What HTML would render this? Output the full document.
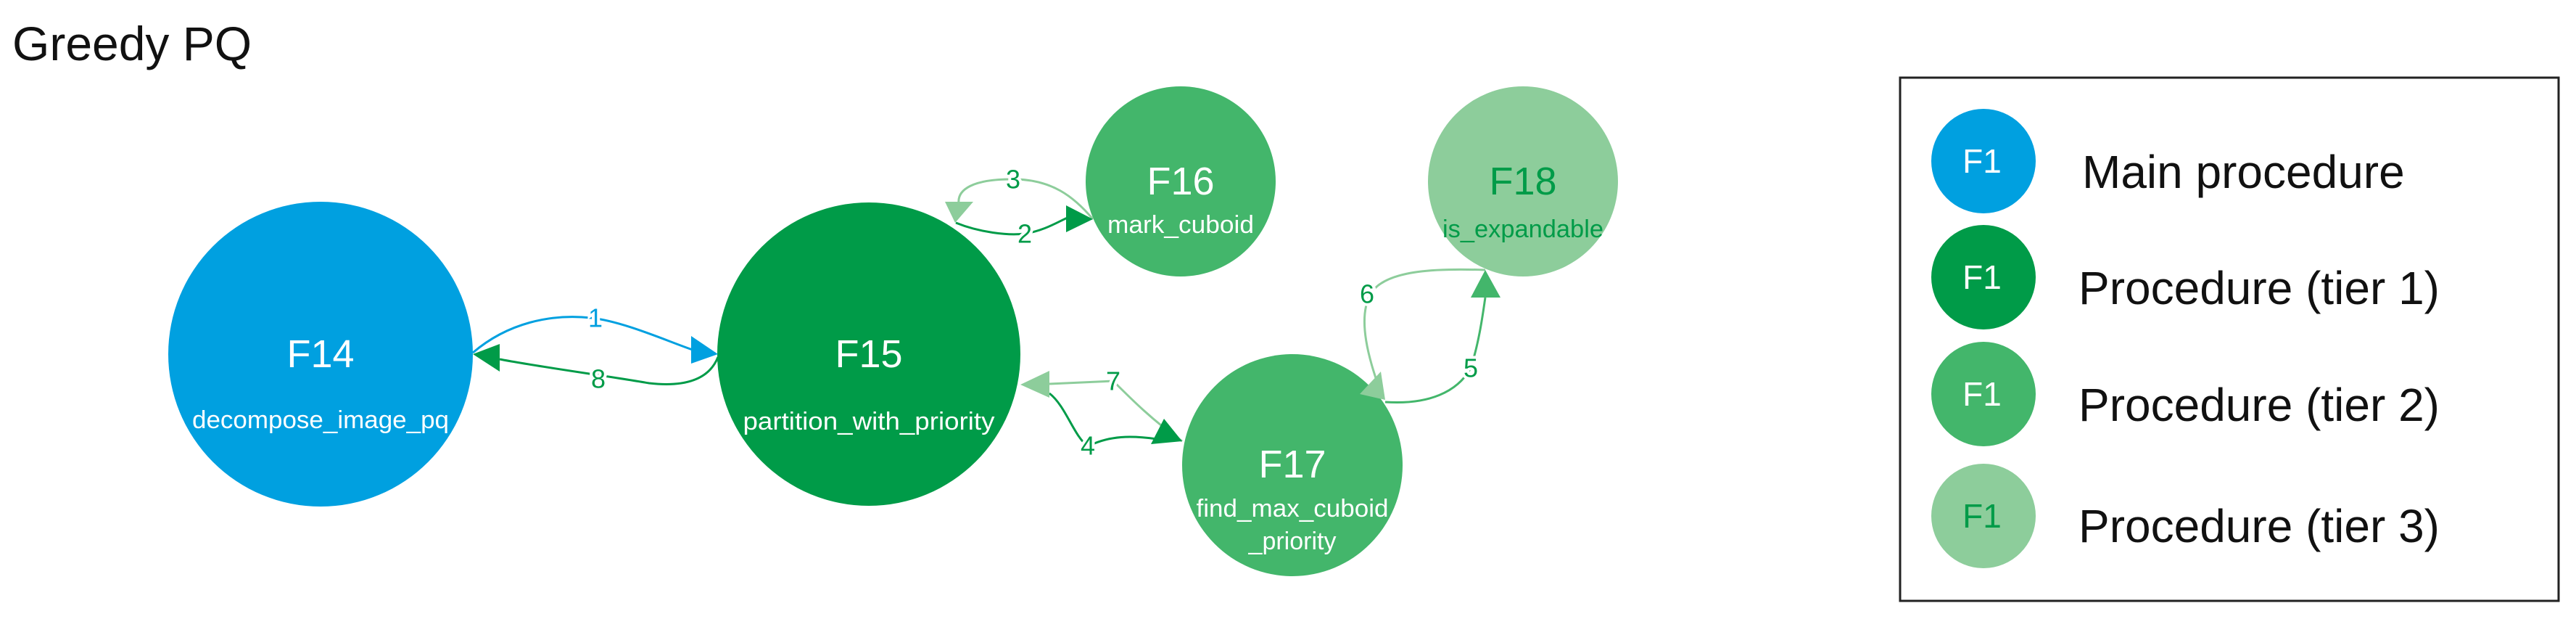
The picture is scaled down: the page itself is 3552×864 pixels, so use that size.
<!DOCTYPE html>
<html><head><meta charset="utf-8"><style>
html,body{margin:0;padding:0;background:#fff;}
svg{display:block;}
text{font-family:"Liberation Sans",sans-serif;}
.el{font-size:36px;text-anchor:middle;dominant-baseline:central;paint-order:stroke;stroke:#fff;stroke-width:8px;}
</style></head><body>
<svg width="3552" height="864" viewBox="0 0 3552 864" xmlns="http://www.w3.org/2000/svg">
<text x="17" y="83" font-size="66" fill="#111">Greedy PQ</text>

<!-- nodes -->
<circle cx="442" cy="488" r="210" fill="#00a0e0"/>
<circle cx="1198" cy="488" r="209" fill="#009b48"/>
<circle cx="1628" cy="250" r="131" fill="#43b66b"/>
<circle cx="2100" cy="250" r="131" fill="#8dcd9b"/>
<ellipse cx="1782" cy="641" rx="152" ry="153" fill="#43b66b"/>

<!-- edges -->
<g fill="none" stroke-width="3">
<path d="M652,486 C700,445 760,432 815,438 C860,443 920,470 955,482" stroke="#00a0e0"/>
<path d="M990,492 C975,530 930,532 895,528 C850,520 740,505 689,495" stroke="#009b48"/>
<path d="M1507,302 C1480,270 1450,248 1400,247 C1340,246 1320,262 1322,280" stroke="#8dcd9b"/>
<path d="M1318,307 C1350,320 1390,325 1413,322 C1440,318 1460,305 1472,300" stroke="#009b48"/>
<path d="M1630,608 C1590,580 1560,550 1535,525 L1447,529" stroke="#8dcd9b"/>
<path d="M1447,542 C1470,560 1480,600 1500,615 C1530,600 1560,600 1595,605" stroke="#009b48"/>
<path d="M2048,372 C1990,370 1910,370 1890,405 C1870,440 1890,500 1900,530" stroke="#8dcd9b"/>
<path d="M1910,554 C1970,558 2010,540 2028,507 C2040,470 2045,430 2048,410" stroke="#43b66b"/>
</g>
<polygon points="953,463 953,501 990,488" fill="#00a0e0"/>
<polygon points="652,488 689,474 689,512" fill="#009b48"/>
<polygon points="1317,307 1303,278 1342,278" fill="#8dcd9b"/>
<polygon points="1507,302 1470,283 1470,320" fill="#009b48"/>
<polygon points="1407,530 1447,511 1447,548" fill="#8dcd9b"/>
<polygon points="1587,612 1605,577 1630,608" fill="#009b48"/>
<polygon points="1875,543 1904,512 1910,551" fill="#8dcd9b"/>
<polygon points="2048,372 2028,410 2069,410" fill="#43b66b"/>

<!-- edge labels -->
<text class="el" x="821" y="438" fill="#00a0e0">1</text>
<text class="el" x="825" y="522" fill="#009b48">8</text>
<text class="el" x="1397" y="247" fill="#009b48">3</text>
<text class="el" x="1413" y="322" fill="#009b48">2</text>
<text class="el" x="1535" y="525" fill="#009b48">7</text>
<text class="el" x="1500" y="614" fill="#009b48">4</text>
<text class="el" x="1885" y="405" fill="#009b48">6</text>
<text class="el" x="2028" y="507" fill="#009b48">5</text>

<!-- node labels -->
<g text-anchor="middle" fill="#fff">
<text x="442" y="506" font-size="54">F14</text>
<text x="442" y="590" font-size="34" textLength="354" lengthAdjust="spacingAndGlyphs">decompose_image_pq</text>
<text x="1198" y="506" font-size="54">F15</text>
<text x="1198" y="592" font-size="34" textLength="347" lengthAdjust="spacingAndGlyphs">partition_with_priority</text>
<text x="1628" y="268" font-size="54">F16</text>
<text x="1628" y="321" font-size="34" textLength="202" lengthAdjust="spacingAndGlyphs">mark_cuboid</text>
<text x="2100" y="268" font-size="54" fill="#009b48">F18</text>
<text x="2100" y="327" font-size="34" fill="#009b48" textLength="222" lengthAdjust="spacingAndGlyphs">is_expandable</text>
<text x="1782" y="658" font-size="54">F17</text>
<text x="1782" y="712" font-size="34" textLength="265" lengthAdjust="spacingAndGlyphs">find_max_cuboid</text>
<text x="1782" y="757" font-size="34">_priority</text>
</g>

<!-- legend -->
<rect x="2620" y="107" width="908" height="721" fill="none" stroke="#222" stroke-width="3"/>
<circle cx="2735" cy="222" r="72" fill="#00a0e0"/>
<circle cx="2735" cy="382" r="72" fill="#009b48"/>
<circle cx="2735" cy="543" r="72" fill="#43b66b"/>
<circle cx="2735" cy="711" r="72" fill="#8dcd9b"/>
<g text-anchor="middle" font-size="46">
<text x="2733" y="238" fill="#fff">F1</text>
<text x="2733" y="398" fill="#fff">F1</text>
<text x="2733" y="559" fill="#fff">F1</text>
<text x="2733" y="727" fill="#009b48">F1</text>
</g>
<g font-size="64" fill="#111">
<text x="2871" y="259">Main procedure</text>
<text x="2866" y="419">Procedure (tier 1)</text>
<text x="2866" y="580">Procedure (tier 2)</text>
<text x="2866" y="747">Procedure (tier 3)</text>
</g>
</svg>
</body></html>
